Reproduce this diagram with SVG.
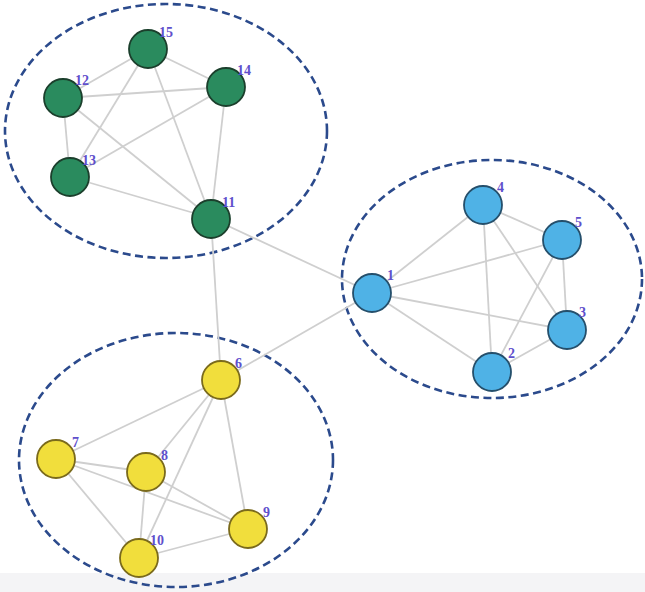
<svg xmlns="http://www.w3.org/2000/svg" width="645" height="592" viewBox="0 0 645 592">
<style>
.e{stroke:#cfcfcf;stroke-width:1.8;fill:none}
.g{fill:none;stroke:#2b4a8c;stroke-width:2.6;stroke-dasharray:8 4.5}
.n{stroke-width:1.8}
.gr{fill:#2a8b5e;stroke:#1b3f2c}
.bl{fill:#4fb2e6;stroke:#254f6b}
.ye{fill:#f1de3c;stroke:#7a6a1c}
.l{font-family:"Liberation Serif",serif;font-size:14px;font-weight:bold;fill:#5f50cc}
</style>
<rect x="0" y="0" width="645" height="592" fill="#ffffff"/>
<rect x="0" y="573" width="645" height="19" fill="#f4f4f6"/>
<g id="groups">
<ellipse class="g" cx="166" cy="131" rx="161" ry="127"/>
<ellipse class="g" cx="492" cy="279" rx="150" ry="119"/>
<ellipse class="g" cx="176" cy="460" rx="157" ry="127"/>
</g>
<g id="edges">
<line class="e" x1="148" y1="49" x2="63" y2="98"/>
<line class="e" x1="148" y1="49" x2="226" y2="87"/>
<line class="e" x1="148" y1="49" x2="70" y2="177"/>
<line class="e" x1="148" y1="49" x2="211" y2="218"/>
<line class="e" x1="63" y1="98" x2="226" y2="87"/>
<line class="e" x1="63" y1="98" x2="70" y2="177"/>
<line class="e" x1="63" y1="98" x2="211" y2="218"/>
<line class="e" x1="226" y1="87" x2="70" y2="177"/>
<line class="e" x1="226" y1="87" x2="211" y2="218"/>
<line class="e" x1="70" y1="177" x2="211" y2="218"/>
<line class="e" x1="211" y1="218" x2="372" y2="293"/>
<line class="e" x1="211" y1="218" x2="221" y2="380"/>
<line class="e" x1="372" y1="293" x2="221" y2="380"/>
<line class="e" x1="372" y1="293" x2="483" y2="205"/>
<line class="e" x1="372" y1="293" x2="562" y2="240"/>
<line class="e" x1="372" y1="293" x2="567" y2="330"/>
<line class="e" x1="372" y1="293" x2="492" y2="372"/>
<line class="e" x1="483" y1="205" x2="562" y2="240"/>
<line class="e" x1="483" y1="205" x2="492" y2="372"/>
<line class="e" x1="483" y1="205" x2="567" y2="330"/>
<line class="e" x1="562" y1="240" x2="492" y2="372"/>
<line class="e" x1="562" y1="240" x2="567" y2="330"/>
<line class="e" x1="567" y1="330" x2="492" y2="372"/>
<line class="e" x1="221" y1="380" x2="56" y2="459"/>
<line class="e" x1="221" y1="380" x2="146" y2="472"/>
<line class="e" x1="221" y1="380" x2="139" y2="558"/>
<line class="e" x1="221" y1="380" x2="248" y2="529"/>
<line class="e" x1="56" y1="459" x2="146" y2="472"/>
<line class="e" x1="56" y1="459" x2="248" y2="529"/>
<line class="e" x1="56" y1="459" x2="139" y2="558"/>
<line class="e" x1="146" y1="472" x2="248" y2="529"/>
<line class="e" x1="146" y1="472" x2="139" y2="558"/>
<line class="e" x1="248" y1="529" x2="139" y2="558"/>
</g>
<g id="n15"><circle class="n gr" cx="148" cy="49" r="19"/><text class="l" x="159" y="37">15</text></g>
<g id="n12"><circle class="n gr" cx="63" cy="98" r="19"/><text class="l" x="75" y="85">12</text></g>
<g id="n14"><circle class="n gr" cx="226" cy="87" r="19"/><text class="l" x="237" y="75">14</text></g>
<g id="n13"><circle class="n gr" cx="70" cy="177" r="19"/><text class="l" x="82" y="165">13</text></g>
<g id="n11"><circle class="n gr" cx="211" cy="219" r="19"/><text class="l" x="222" y="207">11</text></g>
<g id="n1"><circle class="n bl" cx="372" cy="293" r="19"/><text class="l" x="387" y="280">1</text></g>
<g id="n4"><circle class="n bl" cx="483" cy="205" r="19"/><text class="l" x="497" y="192">4</text></g>
<g id="n5"><circle class="n bl" cx="562" cy="240" r="19"/><text class="l" x="575" y="227">5</text></g>
<g id="n3"><circle class="n bl" cx="567" cy="330" r="19"/><text class="l" x="579" y="317">3</text></g>
<g id="n2"><circle class="n bl" cx="492" cy="372" r="19"/><text class="l" x="508" y="358">2</text></g>
<g id="n6"><circle class="n ye" cx="221" cy="380" r="19"/><text class="l" x="235" y="368">6</text></g>
<g id="n7"><circle class="n ye" cx="56" cy="459" r="19"/><text class="l" x="72" y="447">7</text></g>
<g id="n8"><circle class="n ye" cx="146" cy="472" r="19"/><text class="l" x="161" y="460">8</text></g>
<g id="n9"><circle class="n ye" cx="248" cy="529" r="19"/><text class="l" x="263" y="517">9</text></g>
<g id="n10"><circle class="n ye" cx="139" cy="558" r="19"/><text class="l" x="150" y="545">10</text></g>
</svg>
